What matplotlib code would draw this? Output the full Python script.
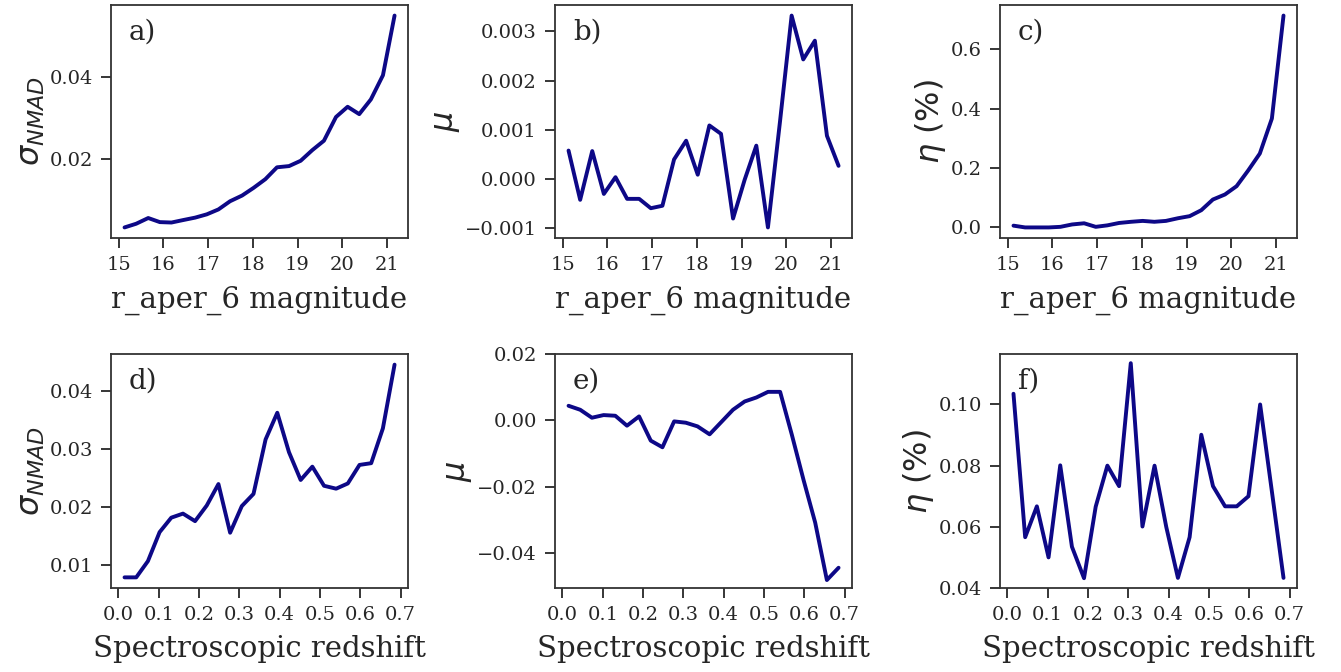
import matplotlib
matplotlib.use("Agg")
import matplotlib.pyplot as plt
import seaborn as sns

sns.set_style("ticks")
plt.rcParams['font.family'] = ['DejaVu Serif']
plt.rcParams['mathtext.fontset'] = 'dejavusans'

# magnitude bins (r_aper_6)
mag = [15.13, 15.39, 15.66, 15.92, 16.18, 16.44, 16.71, 16.97, 17.23, 17.49, 17.76, 18.02,
       18.28, 18.54, 18.81, 19.07, 19.33, 19.59, 19.86, 20.12, 20.38, 20.64, 20.91, 21.17]
sigma_mag = [0.0032, 0.0041, 0.0055, 0.0045, 0.0044, 0.0050, 0.0056, 0.0064, 0.0076, 0.0096,
             0.0110, 0.0129, 0.0150, 0.0179, 0.0182, 0.0195, 0.0221, 0.0244, 0.0302, 0.0327,
             0.0309, 0.0345, 0.0404, 0.0550]
mu_mag = [0.00058, -0.00042, 0.00057, -0.00030, 0.00004, -0.00040, -0.00040, -0.00059,
          -0.00054, 0.00040, 0.00078, 0.00009, 0.00109, 0.00092, -0.00080, -0.00001,
          0.00068, -0.00098, 0.00117, 0.00332, 0.00243, 0.00281, 0.00088, 0.00027]
eta_mag = [0.006, 0.0, 0.0, 0.0, 0.002, 0.010, 0.014, 0.002, 0.007, 0.015, 0.019, 0.022,
           0.019, 0.022, 0.031, 0.038, 0.058, 0.094, 0.111, 0.139, 0.192, 0.249, 0.367, 0.714]

# spectroscopic redshift bins
zspec = [0.015, 0.044, 0.073, 0.102, 0.131, 0.160, 0.190, 0.219, 0.248, 0.277, 0.306, 0.335,
         0.365, 0.394, 0.423, 0.452, 0.481, 0.510, 0.540, 0.569, 0.598, 0.627, 0.656, 0.685]
sigma_z = [0.0078, 0.0078, 0.0106, 0.0156, 0.0181, 0.0188, 0.0175, 0.0202, 0.0239, 0.0155,
           0.0201, 0.0222, 0.0316, 0.0362, 0.0294, 0.0246, 0.0269, 0.0236, 0.0231, 0.0240,
           0.0272, 0.0275, 0.0335, 0.0445]
mu_z = [0.0044, 0.0032, 0.0008, 0.0016, 0.0014, -0.0016, 0.0012, -0.0061, -0.0081, -0.0003,
        -0.0007, -0.0018, -0.0042, -0.0005, 0.0032, 0.0057, 0.0069, 0.0086, 0.0086, -0.0043,
        -0.0179, -0.0308, -0.0481, -0.0444]
eta_z = [0.1035, 0.0566, 0.0667, 0.0500, 0.0801, 0.0535, 0.0432, 0.0666, 0.0800, 0.0733,
         0.1135, 0.0601, 0.0800, 0.0600, 0.0433, 0.0566, 0.0901, 0.0733, 0.0667, 0.0667,
         0.0700, 0.1000, 0.0717, 0.0433]

color = '#0d0887'
fig = plt.figure(figsize=(13.41, 6.72), dpi=100)

lefts = [0.0828, 0.4139, 0.7457]
w = 0.2215
rows = [(0.6458, 0.3468), (0.125, 0.3482)]

panels = [
    (mag, sigma_mag, r'$\sigma_{NMAD}$', 'r_aper_6 magnitude', 'a)'),
    (mag, mu_mag, r'$\mu$', 'r_aper_6 magnitude', 'b)'),
    (mag, eta_mag, r'$\eta$ (%)', 'r_aper_6 magnitude', 'c)'),
    (zspec, sigma_z, r'$\sigma_{NMAD}$', 'Spectroscopic redshift', 'd)'),
    (zspec, mu_z, r'$\mu$', 'Spectroscopic redshift', 'e)'),
    (zspec, eta_z, r'$\eta$ (%)', 'Spectroscopic redshift', 'f)'),
]

for i, (x, y, ylab, xlab, tag) in enumerate(panels):
    bottom, h = rows[i // 3]
    ax = fig.add_axes([lefts[i % 3], bottom, w, h])
    ax.plot(x, y, color=color, lw=2.8)
    ax.set_xlabel(xlab, fontsize=21, labelpad=8)
    ax.set_ylabel(ylab, fontsize=23, family='DejaVu Sans', labelpad=2)
    ax.tick_params(labelsize=14, length=7, width=1.3, pad=6)
    for s in ax.spines.values():
        s.set_linewidth(1.3)
        s.set_color('#333333')
    ax.text(0.06, 0.94, tag, transform=ax.transAxes, fontsize=20, va='top')
    if i < 3:
        ax.set_xticks([15, 16, 17, 18, 19, 20, 21])
    else:
        ax.set_xticks([0.0, 0.1, 0.2, 0.3, 0.4, 0.5, 0.6, 0.7])

axes = fig.axes
axes[0].set_yticks([0.02, 0.04])
axes[1].set_yticks([-0.001, 0.0, 0.001, 0.002, 0.003])
axes[2].set_yticks([0.0, 0.2, 0.4, 0.6])
axes[3].set_yticks([0.01, 0.02, 0.03, 0.04])
axes[4].set_yticks([-0.04, -0.02, 0.0, 0.02])
axes[4].set_ylim(-0.0505, 0.02)
axes[5].set_yticks([0.04, 0.06, 0.08, 0.10])
axes[5].set_ylim(0.04, 0.1165)

fig.savefig('out.png', dpi=100)
